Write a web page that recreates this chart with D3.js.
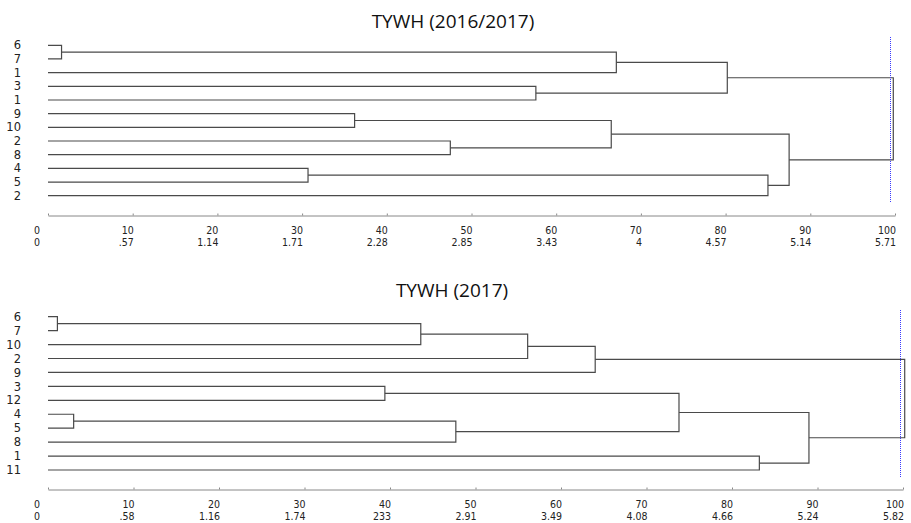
<!DOCTYPE html>
<html>
<head>
<meta charset="utf-8">
<script src="https://cdn.jsdelivr.net/npm/d3@7"></script>
<style>
  body { margin: 0; background: #fff; }
  svg { display: block; }
</style>
</head>
<body>
<div id="chart"></div>
<script>
var width = 911
var height = 523

// upper dendrogram: leaf labels top to bottom, merges as [a, b, height in %]
// (node ids: 0..11 are leaves, merge i makes node 12+i)
var leaves1 = ["6", "7", "1", "3", "1", "9", "10", "2", "8", "4", "5", "2"]
var merges1 = [
  [0, 1, 1.6], [12, 2, 67.1], [3, 4, 57.6], [13, 14, 80.2],
  [5, 6, 36.2], [7, 8, 47.5], [16, 17, 66.5], [9, 10, 30.7],
  [19, 11, 85.0], [18, 20, 87.5], [15, 21, 99.8]
]
var cut1 = 99.4
var distLabels1 = ["0", ".57", "1.14", "1.71", "2.28", "2.85", "3.43", "4", "4.57", "5.14", "5.71"]

// lower dendrogram
var leaves2 = ["6", "7", "10", "2", "9", "3", "12", "4", "5", "8", "1", "11"]
var merges2 = [
  [0, 1, 1.1], [12, 2, 43.6], [13, 3, 56.1], [14, 4, 64.0],
  [5, 6, 39.4], [7, 8, 3.0], [17, 9, 47.7], [16, 18, 73.8],
  [10, 11, 83.2], [19, 20, 89.0], [15, 21, 100.2]
]
var cut2 = 99.6
var distLabels2 = ["0", ".58", "1.16", "1.74", "233", "2.91", "3.49", "4.08", "4.66", "5.24", "5.82"]

var pctTicks = [0, 10, 20, 30, 40, 50, 60, 70, 80, 90, 100]

var svg = d3.select("#chart").append("svg")
    .attr("width", width)
    .attr("height", height)

function drawDendro(opt) {
  var g = svg.append("g")
  var x = d3.scaleLinear().domain([0, 100]).range([48, opt.xEnd])
  var y = d3.scalePoint().domain(d3.range(opt.leaves.length)).range(opt.yRange)

  // title
  g.append("text")
    .attr("x", opt.titleX)
    .attr("y", opt.titleY)
    .attr("text-anchor", "middle")
    .style("font-family", "'Open Sans', sans-serif")
    .style("font-size", "19px")
    .style("fill", "#111")
    .text(opt.title)

  // node positions
  var nodes = opt.leaves.map(function(d, i) {
    return { y: y(i), h: 0 }
  })
  opt.merges.forEach(function(m) {
    nodes.push({ y: (nodes[m[0]].y + nodes[m[1]].y) / 2, h: m[2] })
  })

  g.selectAll("path.link")
    .data(opt.merges)
    .enter()
    .append("path")
    .attr("class", "link")
    .attr("fill", "none")
    .attr("stroke", "#4a4a4a")
    .attr("stroke-width", 1.2)
    .attr("d", function(m) {
      var a = nodes[m[0]], b = nodes[m[1]]
      return "M" + x(a.h) + "," + a.y + "H" + x(m[2]) + "V" + b.y + "H" + x(b.h)
    })

  // leaf labels
  g.selectAll("text.leaf")
    .data(opt.leaves)
    .enter()
    .append("text")
    .attr("class", "leaf")
    .attr("x", 21)
    .attr("y", function(d, i) { return y(i) })
    .attr("dy", "0.36em")
    .attr("text-anchor", "end")
    .style("font-family", "'DejaVu Sans', sans-serif")
    .style("font-size", "11.5px")
    .style("fill", "#222")
    .text(function(d) { return d })

  // cut line
  var cx = Math.round(x(opt.cut)) + 0.5
  g.append("line")
    .attr("x1", cx).attr("x2", cx)
    .attr("y1", opt.cutY[0]).attr("y2", opt.cutY[1])
    .attr("stroke", "#3a3aff")
    .attr("stroke-width", 1)
    .attr("stroke-dasharray", "1,1")

  // axis
  var axis = d3.axisTop(x)
    .tickValues(pctTicks)
    .tickSizeInner(2)
    .tickSizeOuter(0)
    .tickFormat("")
  var ax = g.append("g")
    .attr("transform", "translate(0," + opt.axisY + ")")
    .call(axis)
  ax.select(".domain").attr("stroke", "#888")
  ax.selectAll(".tick line").attr("stroke", "#888")

  var labelX = function(v) { return v === 0 ? x(v) - 8 : x(v) + 1 }
  g.selectAll("text.pct")
    .data(pctTicks)
    .enter()
    .append("text")
    .attr("class", "pct")
    .attr("x", labelX)
    .attr("y", opt.axisY + 18.5)
    .attr("text-anchor", "end")
    .style("font-family", "'DejaVu Sans Condensed', sans-serif")
    .style("font-size", "10.5px")
    .style("fill", "#222")
    .text(function(d) { return d })
  g.selectAll("text.dist")
    .data(opt.distLabels)
    .enter()
    .append("text")
    .attr("class", "dist")
    .attr("x", function(d, i) { return labelX(pctTicks[i]) })
    .attr("y", opt.axisY + 30.5)
    .attr("text-anchor", "end")
    .style("font-family", "'DejaVu Sans Condensed', sans-serif")
    .style("font-size", "10.5px")
    .style("fill", "#222")
    .text(function(d) { return d })
}

drawDendro({
  title: "TYWH (2016/2017)", titleX: 453, titleY: 28,
  leaves: leaves1, merges: merges1, cut: cut1, distLabels: distLabels1,
  xEnd: 895, yRange: [45.3, 195.7], cutY: [37, 203], axisY: 215.5
})
drawDendro({
  title: "TYWH (2017)", titleX: 452, titleY: 297,
  leaves: leaves2, merges: merges2, cut: cut2, distLabels: distLabels2,
  xEnd: 903, yRange: [316.7, 470], cutY: [310, 477], axisY: 489.5
})
</script>
</body>
</html>
